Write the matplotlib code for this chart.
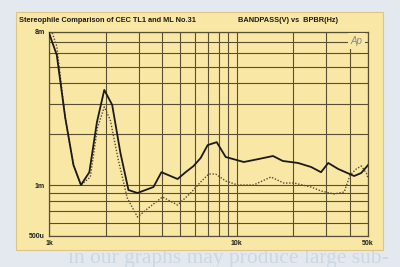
import matplotlib
matplotlib.use("Agg")
import matplotlib.pyplot as plt
from matplotlib.patches import Rectangle

# solid curve (CEC TL1)
freq_a = [1000, 1100, 1220, 1350, 1480, 1640, 1800, 1970, 2170, 2400, 2650, 2960,
          3600, 3970, 4840, 5340, 5890, 6420, 7000, 7820, 8730, 10900, 13100,
          15600, 17600, 21200, 24900, 28100, 30700, 34700, 42200, 46000, 50000]
volt_a = [7.9e-3, 5.85e-3, 2.5e-3, 1.31e-3, 1.00e-3, 1.19e-3, 2.35e-3, 3.64e-3,
          2.97e-3, 1.55e-3, 0.934e-3, 0.897e-3, 0.973e-3, 1.19e-3, 1.085e-3,
          1.19e-3, 1.295e-3, 1.443e-3, 1.72e-3, 1.79e-3, 1.463e-3, 1.367e-3,
          1.424e-3, 1.483e-3, 1.386e-3, 1.349e-3, 1.277e-3, 1.19e-3, 1.349e-3,
          1.243e-3, 1.13e-3, 1.177e-3, 1.31e-3]

# dotted curve (ML No.31)
freq_b = [1040, 1100, 1220, 1350, 1480, 1660, 1810, 1970, 2120, 2340, 2610, 2960,
          3380, 4020, 4840, 5680, 6420, 7090, 7720, 8730, 10100, 12300, 15200,
          17800, 20200, 24900, 28100, 33000, 37300, 40200, 43300, 46000, 49000, 50000]
volt_b = [7.9e-3, 6.6e-3, 2.5e-3, 1.31e-3, 1.00e-3, 1.115e-3, 2.17e-3, 2.89e-3,
          2.42e-3, 1.405e-3, 0.838e-3, 0.647e-3, 0.731e-3, 0.85e-3, 0.762e-3,
          0.897e-3, 1.041e-3, 1.161e-3, 1.161e-3, 1.056e-3, 1.0e-3, 1.0e-3,
          1.115e-3, 1.027e-3, 1.027e-3, 0.973e-3, 0.922e-3, 0.885e-3, 0.909e-3,
          1.146e-3, 1.243e-3, 1.295e-3, 1.177e-3, 1.10e-3]

x_grid = [1000, 2000, 3000, 4000, 5000, 6000, 7000, 8000, 9000,
          10000, 20000, 30000, 40000, 50000]
x_labels = {1000: '1k', 10000: '10k', 50000: '50k'}
y_grid = [5e-4, 6e-4, 7e-4, 8e-4, 9e-4, 1e-3, 2e-3, 3e-3, 4e-3, 5e-3, 6e-3, 7e-3, 8e-3]
y_labels = {5e-4: '500u', 1e-3: '1m', 8e-3: '8m'}

PANEL = '#f9e7a6'
INK = '#5a4e34'

fig = plt.figure(figsize=(4.0, 2.67), dpi=100)
fig.patch.set_facecolor('#e4e9f0')

# faint magazine text bleeding through below the card
fig.text(0.572, 1 - 258 / 267, 'in our graphs may produce large sub-',
         ha='center', va='center', fontsize=15.5, family='Liberation Serif',
         color='#cdd7e4', zorder=-2)

# yellow card behind the graph
fig.patches.append(Rectangle((16 / 400, 1 - 250 / 267), 367 / 400, 238 / 267,
                             transform=fig.transFigure, facecolor=PANEL,
                             edgecolor='#dcc585', lw=0.8, zorder=-1))

ax = fig.add_axes([49 / 400, 1 - 236 / 267, 319 / 400, 204 / 267])
ax.set_facecolor(PANEL)
ax.set_xscale('log')
ax.set_yscale('log')
ax.set_xlim(1000, 50000)
ax.set_ylim(5e-4, 8e-3)

ax.set_xticks(x_grid)
ax.set_xticklabels([x_labels.get(v, '') for v in x_grid])
ax.set_yticks(y_grid)
ax.set_yticklabels([y_labels.get(v, '') for v in y_grid])
ax.minorticks_off()
ax.tick_params(length=0, labelsize=5, pad=3, colors='#222222')
for lab in ax.get_xticklabels() + ax.get_yticklabels():
    lab.set_fontweight('bold')
    lab.set_family('Liberation Sans')

ax.grid(True, color=INK, lw=0.8)
for s in ax.spines.values():
    s.set_color(INK)
    s.set_linewidth(0.9)

ax.plot(freq_b, volt_b, ls=(0, (1, 1.2)), color='#5a4a35', lw=1.0, zorder=3)
ax.plot(freq_a, volt_a, color='#1e1a14', lw=1.3, zorder=4)

ax.text(0.983, 0.955, 'Ap', transform=ax.transAxes, ha='right', va='center',
        fontsize=7, style='italic', color='#8c8a86', family='Liberation Sans',
        bbox=dict(boxstyle='square,pad=0.3', fc=PANEL, ec='none'), zorder=5)

fig.text(19 / 400, 1 - 21 / 267, 'Stereophile Comparison of CEC TL1 and ML No.31',
         ha='left', va='center', fontsize=5.3, fontweight='bold',
         family='Liberation Sans', color='#1e1a14')
fig.text(238 / 400, 1 - 21 / 267, 'BANDPASS(V) vs  BPBR(Hz)',
         ha='left', va='center', fontsize=5.3, fontweight='bold',
         family='Liberation Sans', color='#1e1a14')

fig.savefig('out.png', dpi=100, facecolor=fig.get_facecolor())
